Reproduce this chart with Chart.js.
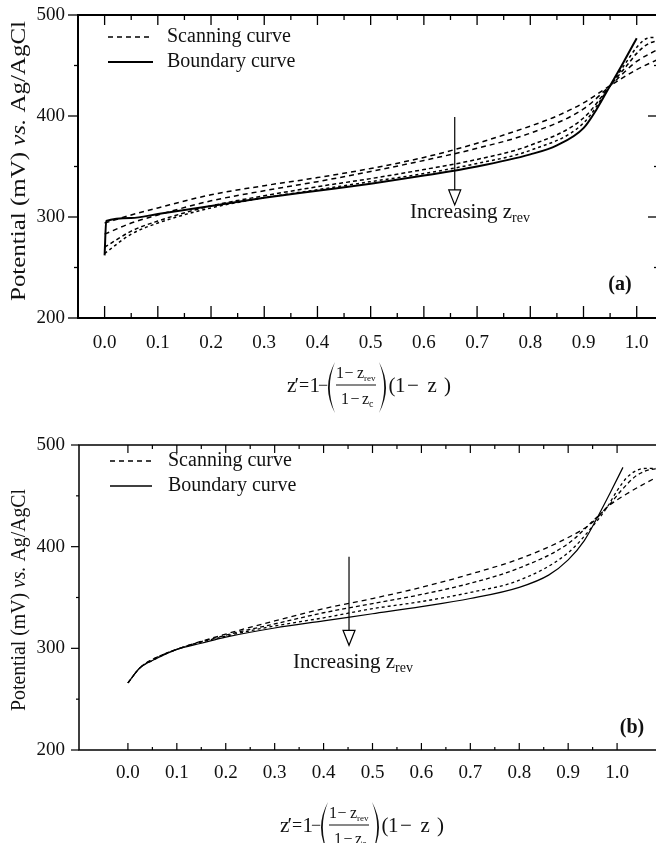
<!DOCTYPE html>
<html><head><meta charset="utf-8">
<script src="https://cdn.jsdelivr.net/npm/chart.js@4.4.1/dist/chart.umd.min.js"></script>
<style>
html,body{margin:0;padding:0;background:#fff;overflow:hidden;}
#wrap{position:relative;width:656px;height:843px;overflow:hidden;background:#fff;}
canvas{position:absolute;left:0;display:block;}
#ca{top:0;} #cb{top:430px;}
</style></head><body>
<div id="wrap"><canvas id="ca" width="680" height="430"></canvas><canvas id="cb" width="680" height="413"></canvas></div>
<script>
// ---------- data ----------
const xTickValues = [0, 0.1, 0.2, 0.3, 0.4, 0.5, 0.6, 0.7, 0.8, 0.9, 1.0];
const xTickLabels = ['0.0','0.1','0.2','0.3','0.4','0.5','0.6','0.7','0.8','0.9','1.0'];
const xMinorValues = [0.05, 0.15, 0.25, 0.35, 0.45, 0.55, 0.65, 0.75, 0.85, 0.95];
const yTickValues = [200, 300, 400, 500];
const yTickLabels = ['200', '300', '400', '500'];
const yMinorValues = [250, 350, 450];
const legendLabels = ['Scanning curve', 'Boundary curve'];
const yTitleParts = ['Potential (mV) ', 'vs.', ' Ag/AgCl'];

// Panel (a)
const zA_boundary = [0, 0.003, 0.05, 0.1, 0.2, 0.3, 0.4, 0.5, 0.6, 0.7, 0.8, 0.85, 0.9, 0.925, 0.95, 0.975, 1.0];
const eA_boundary = [262, 296, 299, 303, 311, 319, 326, 333, 341, 350, 362, 371, 388, 407, 430, 453, 477];
const zA_scan1 = [0, 0.05, 0.1, 0.2, 0.3, 0.4, 0.5, 0.6, 0.7, 0.8, 0.85, 0.9, 0.95, 1.0, 1.04];
const eA_scan1 = [294, 302, 309, 322, 331, 339, 348, 359, 373, 390, 400, 413, 430, 446, 456];
const zA_scan2 = [0, 0.05, 0.1, 0.2, 0.3, 0.4, 0.5, 0.6, 0.7, 0.8, 0.9, 0.95, 1.0, 1.04];
const eA_scan2 = [283, 294, 302, 316, 326, 335, 345, 356, 368, 383, 407, 430, 454, 466];
const zA_scan3 = [0, 0.05, 0.1, 0.2, 0.3, 0.4, 0.5, 0.6, 0.7, 0.8, 0.9, 0.95, 0.98, 1.0, 1.02, 1.04];
const eA_scan3 = [270, 286, 296, 311, 321, 330, 338, 347, 357, 371, 398, 430, 449, 462, 471, 475];
const zA_scan4 = [0, 0.05, 0.1, 0.2, 0.3, 0.4, 0.5, 0.6, 0.7, 0.8, 0.9, 0.95, 0.98, 1.0, 1.02, 1.04];
const eA_scan4 = [264, 283, 294, 309, 319, 327, 335, 343, 353, 366, 393, 430, 453, 468, 477, 478];

// Panel (b)
const zB_boundary = [0, 0.025, 0.05, 0.1, 0.15, 0.2, 0.3, 0.4, 0.5, 0.6, 0.7, 0.8, 0.86, 0.9, 0.933, 0.96, 0.986, 1.012];
const eB_boundary = [266, 281, 288, 299, 305, 311, 320, 327, 334, 341, 349, 360, 372, 387, 406, 429, 453, 478];
const zB_scan1 = [0, 0.025, 0.05, 0.1, 0.2, 0.3, 0.4, 0.5, 0.6, 0.7, 0.8, 0.9, 0.95, 0.98, 1.02, 1.06, 1.1];
const eB_scan1 = [266, 281, 289, 299, 314, 327, 339, 349, 360, 373, 388, 409, 424, 439, 452, 463, 473];
const zB_scan2 = [0, 0.025, 0.05, 0.1, 0.2, 0.3, 0.4, 0.5, 0.6, 0.7, 0.8, 0.9, 0.95, 0.98, 1.01, 1.04, 1.07, 1.1];
const eB_scan2 = [266, 281, 289, 299, 313, 324, 335, 344, 353, 364, 379, 403, 425, 439, 456, 470, 476, 477];
const zB_scan3 = [0, 0.025, 0.05, 0.1, 0.2, 0.3, 0.4, 0.5, 0.6, 0.7, 0.8, 0.9, 0.95, 0.98, 1.0, 1.02, 1.04, 1.06, 1.1];
const eB_scan3 = [266, 281, 288, 299, 312, 322, 330, 339, 346, 355, 367, 394, 420, 439, 455, 468, 475, 477, 477];

// ---------- helpers ----------
const SERIF = '"Liberation Serif", "Times New Roman", "DejaVu Serif", serif';
const fnt = (size, style) => (style ? style + ' ' : '') + size + 'px ' + SERIF;
const INK = '#111';

function seg(ctx, x1, y1, x2, y2) { ctx.beginPath(); ctx.moveTo(x1, y1); ctx.lineTo(x2, y2); ctx.stroke(); }

function bigParen(ctx, xEnd, xBulge, yTop, yBot, w) {
  const ym = (yTop + yBot) / 2;
  const dir = xBulge < xEnd ? 1 : -1;
  ctx.beginPath();
  ctx.moveTo(xEnd, yTop);
  ctx.quadraticCurveTo(2 * xBulge - xEnd, ym, xEnd, yBot);
  ctx.quadraticCurveTo(2 * (xBulge + dir * w) - xEnd, ym, xEnd, yTop);
  ctx.closePath();
  ctx.fill();
}

function drawFormula(ctx, x0, y0) {
  ctx.save();
  ctx.fillStyle = INK; ctx.strokeStyle = INK;
  ctx.textAlign = 'left'; ctx.textBaseline = 'alphabetic';
  const mb = y0 + 7;
  ctx.font = fnt(21);
  ctx.fillText('z', x0 - 1, mb);
  ctx.fillText('\u2032', x0 + 6.5, mb);
  ctx.fillText('1', x0 + 21.5, mb);
  ctx.font = fnt(18);
  ctx.fillText('=', x0 + 11, mb - 1);
  ctx.fillText('\u2212', x0 + 30, mb - 1);
  bigParen(ctx, x0 + 47, x0 + 40, y0 - 23, y0 + 28, 1.8);
  ctx.font = fnt(16);
  const nb = y0 - 7.5;
  ctx.fillText('1', x0 + 48, nb); ctx.fillText('\u2212', x0 + 56.5, nb); ctx.fillText('z', x0 + 69, nb);
  ctx.font = fnt(9); ctx.fillText('rev', x0 + 76, nb + 3);
  ctx.lineWidth = 1; seg(ctx, x0 + 48, y0, x0 + 88, y0);
  ctx.font = fnt(16);
  const db = y0 + 18.5;
  ctx.fillText('1', x0 + 53, db); ctx.fillText('\u2212', x0 + 62.5, db); ctx.fillText('z', x0 + 74, db);
  ctx.font = fnt(10); ctx.fillText('c', x0 + 81, db + 3);
  bigParen(ctx, x0 + 91, x0 + 98, y0 - 23, y0 + 28, 1.8);
  ctx.font = fnt(21);
  ctx.fillText('(', x0 + 100.5, mb);
  ctx.fillText('1', x0 + 107, mb);
  ctx.fillText('\u2212', x0 + 119, mb);
  ctx.fillText('z', x0 + 139.5, mb);
  ctx.fillText(')', x0 + 156, mb);
  ctx.restore();
}

function drawYTitle(ctx, cx, cy, size, length) {
  ctx.save();
  ctx.fillStyle = INK;
  ctx.translate(cx, cy); ctx.rotate(-Math.PI / 2);
  const fonts = [fnt(size), fnt(size, 'italic'), fnt(size)];
  let total = 0; const ws = [];
  yTitleParts.forEach((t, i) => { ctx.font = fonts[i]; const w = ctx.measureText(t).width; ws.push(w); total += w; });
  const sx = length / total;
  ctx.scale(sx, 1);
  ctx.textBaseline = 'middle'; ctx.textAlign = 'left';
  let x = -total / 2;
  yTitleParts.forEach((t, i) => { ctx.font = fonts[i]; ctx.fillText(t, x, 0); x += ws[i]; });
  ctx.restore();
}

function makeDecor(cfg) {
  return {
    id: 'decor_' + cfg.name,
    afterDraw(chart) {
      const ctx = chart.ctx, a = chart.chartArea, xs = chart.scales.x, ys = chart.scales.y;
      ctx.save();
      ctx.strokeStyle = '#000'; ctx.fillStyle = INK; ctx.setLineDash([]);
      // frame
      ctx.lineWidth = cfg.frameW;
      ctx.strokeRect(a.left, a.top, a.right - a.left, a.bottom - a.top);
      // ticks
      ctx.lineWidth = cfg.tickW;
      const T = cfg.tk;
      xTickValues.forEach(v => { const p = xs.getPixelForValue(v);
        seg(ctx, p, a.bottom, p, a.bottom - T.bMaj); seg(ctx, p, a.top, p, a.top + T.tMaj); });
      xMinorValues.forEach(v => { const p = xs.getPixelForValue(v);
        seg(ctx, p, a.bottom, p, a.bottom - T.bMin); seg(ctx, p, a.top, p, a.top + T.tMin); });
      yTickValues.forEach(v => { const p = ys.getPixelForValue(v);
        seg(ctx, a.left, p, a.left - T.lMaj, p); seg(ctx, a.right, p, a.right - T.rMaj, p); });
      yMinorValues.forEach(v => { const p = ys.getPixelForValue(v);
        seg(ctx, a.left, p, a.left - T.lMin, p); seg(ctx, a.right, p, a.right - T.rMin, p); });
      // legend
      const L = cfg.legend;
      ctx.lineWidth = 1.5; ctx.setLineDash([5, 4]);
      seg(ctx, L.x1, L.y1, L.x2, L.y1);
      ctx.setLineDash([]); ctx.lineWidth = cfg.legSolidW;
      seg(ctx, L.x1, L.y2, L.x2, L.y2);
      ctx.font = fnt(20); ctx.textBaseline = 'middle'; ctx.textAlign = 'left';
      ctx.fillText(legendLabels[0], L.tx, L.y1);
      ctx.fillText(legendLabels[1], L.tx, L.y2);
      // arrow
      const A = cfg.arrow;
      const ax = xs.getPixelForValue(A.z), ay1 = ys.getPixelForValue(A.e1), ay2 = ys.getPixelForValue(A.e2);
      ctx.lineWidth = 1.2;
      seg(ctx, ax, ay1, ax, ay2 - 15);
      ctx.beginPath(); ctx.moveTo(ax - 6, ay2 - 15); ctx.lineTo(ax + 6, ay2 - 15); ctx.lineTo(ax, ay2); ctx.closePath();
      ctx.fillStyle = '#fff'; ctx.fill(); ctx.stroke();
      ctx.fillStyle = INK;
      // annotation text
      ctx.font = fnt(21); ctx.textBaseline = 'middle';
      const t1 = 'Increasing z';
      ctx.fillText(t1, cfg.note.x, cfg.note.y);
      const w1 = ctx.measureText(t1).width;
      ctx.font = fnt(14); ctx.fillText('rev', cfg.note.x + w1, cfg.note.y + 6);
      // panel label
      ctx.font = fnt(20, 'bold'); ctx.textAlign = 'center';
      ctx.fillText(cfg.panel, cfg.panelPos.x, cfg.panelPos.y);
      // y title
      drawYTitle(ctx, 20, cfg.titleCY, 20, cfg.titleLen);
      // x title formula
      drawFormula(ctx, cfg.formula.x, cfg.formula.y);
      ctx.restore();
    }
  };
}

function ds(z, e, width, dash) {
  return {
    data: z.map((x, i) => ({ x: x, y: e[i] })),
    showLine: true, borderColor: '#000', borderWidth: width, borderDash: dash,
    pointRadius: 0, pointHoverRadius: 0, fill: false,
    cubicInterpolationMode: 'monotone', tension: 0.4
  };
}

function makeChart(el, cfg) {
  return new Chart(el, {
    type: 'scatter',
    data: { datasets: cfg.datasets },
    options: {
      responsive: false, animation: false, devicePixelRatio: 1,
      layout: { padding: { left: 0, right: cfg.padRight, top: cfg.padTop, bottom: 0 } },
      plugins: { legend: { display: false }, tooltip: { enabled: false } },
      events: [],
      scales: {
        x: {
          type: 'linear', min: cfg.xmin, max: cfg.xmax,
          grid: { display: false, drawTicks: false }, border: { display: false },
          afterBuildTicks: s => { s.ticks = xTickValues.map(v => ({ value: v })); },
          afterFit: s => { s.height = cfg.xAxisH; s.paddingLeft = 0; s.paddingRight = 0; s.paddingTop = 0; s.paddingBottom = 0; },
          ticks: { autoSkip: false, maxRotation: 0, minRotation: 0, padding: cfg.xPad,
            font: { family: SERIF, size: 19 }, color: INK,
            callback: (v, i) => xTickLabels[i] }
        },
        y: {
          type: 'linear', min: 200, max: 500,
          grid: { display: false, drawTicks: false }, border: { display: false },
          afterBuildTicks: s => { s.ticks = yTickValues.map(v => ({ value: v })); },
          afterFit: s => { s.width = cfg.yAxisW; s.paddingTop = 0; s.paddingBottom = 0; s.paddingLeft = 0; s.paddingRight = 0; },
          ticks: { autoSkip: false, padding: cfg.yPad,
            font: { family: SERIF, size: 19 }, color: INK,
            callback: (v, i) => yTickLabels[i] }
        }
      }
    },
    plugins: [makeDecor(cfg)]
  });
}

makeChart(document.getElementById('ca'), {
  name: 'a', panel: '(a)',
  datasets: [
    ds(zA_scan1, eA_scan1, 1.5, [5, 4]),
    ds(zA_scan2, eA_scan2, 1.5, [5, 4]),
    ds(zA_scan3, eA_scan3, 1.5, [4, 3]),
    ds(zA_scan4, eA_scan4, 1.5, [3, 3]),
    ds(zA_boundary, eA_boundary, 2, [])
  ],
  xmin: -0.05, xmax: 1.04, padRight: 22, padTop: 15, xAxisH: 112, yAxisW: 78,
  xPad: 14, yPad: 13, frameW: 2, tickW: 1.3, legSolidW: 2,
  tk: { bMaj: 12, bMin: 5, tMaj: 10, tMin: 5, lMaj: 10, lMin: 4, rMaj: 10, rMin: 4 },
  legend: { x1: 108, x2: 153, y1: 37, y2: 62, tx: 167 },
  arrow: { z: 0.658, e1: 399, e2: 312 },
  note: { x: 410, y: 212 },
  panelPos: { x: 620, y: 285 },
  titleCY: 161, titleLen: 280,
  formula: { x: 288, y: 385 }
});

makeChart(document.getElementById('cb'), {
  name: 'b', panel: '(b)',
  datasets: [
    ds(zB_scan1, eB_scan1, 1.3, [5, 4]),
    ds(zB_scan2, eB_scan2, 1.3, [4, 3]),
    ds(zB_scan3, eB_scan3, 1.3, [3, 3]),
    ds(zB_boundary, eB_boundary, 1.2, [])
  ],
  xmin: -0.1, xmax: 1.1, padRight: 14, padTop: 15, xAxisH: 93, yAxisW: 79,
  xPad: 12, yPad: 14, frameW: 1.5, tickW: 1.2, legSolidW: 1.3,
  tk: { bMaj: 7, bMin: 3, tMaj: 8, tMin: 4, lMaj: 8, lMin: 3, rMaj: 8, rMin: 3 },
  legend: { x1: 110, x2: 152, y1: 31, y2: 56, tx: 168 },
  arrow: { z: 0.452, e1: 390, e2: 303 },
  note: { x: 293, y: 232 },
  panelPos: { x: 632, y: 298 },
  titleCY: 170, titleLen: 222,
  formula: { x: 281, y: 395 }
});
</script></body></html>
